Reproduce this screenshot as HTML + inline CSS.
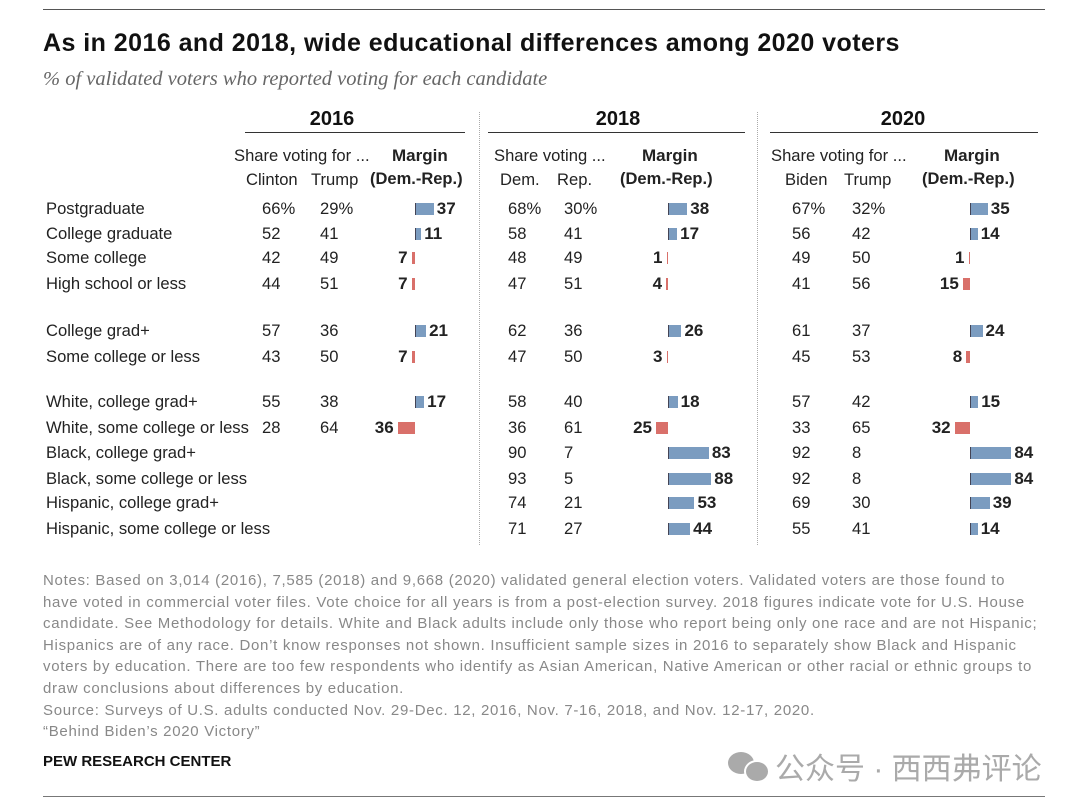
<!DOCTYPE html>
<html><head><meta charset="utf-8">
<style>
body{margin:0;background:#fff;width:1080px;height:806px;overflow:hidden;font-family:"Liberation Sans",sans-serif;color:#222;position:relative}
.a{position:absolute;white-space:nowrap}
.t{font-size:16.6px;line-height:20px}
</style></head><body>
<div class="a" style="left:43px;top:9px;width:1002px;height:1px;background:#555"></div>
<div class="a" style="left:43px;top:29px;font-size:25px;letter-spacing:0.45px;font-weight:bold;color:#111">As in 2016 and 2018, wide educational differences among 2020 voters</div>
<div class="a" style="left:43px;top:68px;font-size:20.5px;font-style:italic;font-family:'Liberation Serif',serif;color:#666">% of validated voters who reported voting for each candidate</div>
<div id="chart"></div>
<div class="a" style="left:43px;top:570px;font-size:15px;letter-spacing:0.7px;line-height:21.6px;color:#888">Notes: Based on 3,014 (2016), 7,585 (2018) and 9,668 (2020) validated general election voters. Validated voters are those found to<br>have voted in commercial voter files. Vote choice for all years is from a post-election survey. 2018 figures indicate vote for U.S. House<br>candidate. See Methodology for details. White and Black adults include only those who report being only one race and are not Hispanic;<br>Hispanics are of any race. Don’t know responses not shown. Insufficient sample sizes in 2016 to separately show Black and Hispanic<br>voters by education. There are too few respondents who identify as Asian American, Native American or other racial or ethnic groups to<br>draw conclusions about differences by education.<br>Source: Surveys of U.S. adults conducted Nov. 29-Dec. 12, 2016, Nov. 7-16, 2018, and Nov. 12-17, 2020.<br>“Behind Biden’s 2020 Victory”</div>
<div class="a" style="left:43px;top:753px;font-size:15px;font-weight:bold;color:#111">PEW RESEARCH CENTER</div>
<div class="a" style="left:728px;top:752px;width:26px;height:22px;border-radius:50%;background:#aaa"></div>
<div class="a" style="left:744px;top:760px;width:22px;height:19px;border-radius:50%;background:#aaa;border:2px solid #fff"></div>
<div class="a" style="left:775px;top:744px;font-size:30px;color:#aaa;font-family:'Liberation Sans','Noto Sans CJK SC',sans-serif">公众号 · 西西弗评论</div>
<div class="a" style="left:43px;top:796px;width:1002px;height:1px;background:#777"></div>
<script>
const labels=["Postgraduate","College graduate","Some college","High school or less","College grad+","Some college or less","White, college grad+","White, some college or less","Black, college grad+","Black, some college or less","Hispanic, college grad+","Hispanic, some college or less"];
const dem2016=[66,52,42,44,57,43,55,28,null,null,null,null];
const rep2016=[29,41,49,51,36,50,38,64,null,null,null,null];
const dem2018=[68,58,48,47,62,47,58,36,90,93,74,71];
const rep2018=[30,41,49,51,36,50,40,61,7,5,21,27];
const dem2020=[67,56,49,41,61,45,57,33,92,92,69,55];
const rep2020=[32,42,50,56,37,53,42,65,8,8,30,41];
const rowY=[209,234,258,284,331,357,402,428,453,479,503,529];
const years=[
 {y:"2016",d:dem2016,r:rep2016,dx:262,rx:320,zero:415,c:332,l:245,w:220,h1:"Share voting for ...",h1x:234,dn:"Clinton",rn:"Trump",dnx:246,rnx:311,mx:392,m2x:370},
 {y:"2018",d:dem2018,r:rep2018,dx:508,rx:564,zero:668,c:618,l:488,w:257,h1:"Share voting ...",h1x:494,dn:"Dem.",rn:"Rep.",dnx:500,rnx:557,mx:642,m2x:620},
 {y:"2020",d:dem2020,r:rep2020,dx:792,rx:852,zero:970,c:903,l:770,w:268,h1:"Share voting for ...",h1x:771,dn:"Biden",rn:"Trump",dnx:785,rnx:844,mx:944,m2x:922}];
const root=document.getElementById('chart');
function add(html,style,name,cls){const e=document.createElement('div');e.className='a '+(cls||'');e.innerHTML=html;e.style.cssText=style;


root.appendChild(e);return e;}
labels.forEach((l,i)=>add(l,`left:46px;top:${rowY[i]-10}px`,'row-label','t'));
const k=0.48;
years.forEach((Y,j)=>{
 add(Y.y,`left:${Y.c-40}px;width:80px;text-align:center;top:108px;font-size:20px;font-weight:bold;color:#111`,'year-header-'+Y.y);
 add('',`left:${Y.l}px;top:132px;width:${Y.w}px;height:1px;background:#333`,'year-rule-'+Y.y);
 add(Y.h1,`left:${Y.h1x}px;top:146px`,'share-header','t');
 add('<b>Margin</b>',`left:${Y.mx}px;top:146px;font-size:17px`,'margin-header');
 add(Y.dn,`left:${Y.dnx}px;top:170px`,'dem-header','t');
 add(Y.rn,`left:${Y.rnx}px;top:170px`,'rep-header','t');
 add('<b>(Dem.-Rep.)</b>',`left:${Y.m2x}px;top:170px;font-size:16.5px`,'margin-subheader');
 Y.d.forEach((d,i)=>{
  if(d===null)return;const r=Y.r[i];const pct=i==0?'%':'';
  add(d+pct,`left:${Y.dx}px;top:${rowY[i]-10}px`,'dem-value','t');
  add(r+pct,`left:${Y.rx}px;top:${rowY[i]-10}px`,'rep-value','t');
  const m=d-r;const w=Math.max(1.5,Math.abs(m)*k);
  if(m>=0){
   add('',`left:${Y.zero}px;top:${rowY[i]-6}px;width:${w}px;height:12px;background:#7b9cc0;border-left:1px solid #445`,'margin-bar');
   add('<b>'+m+'</b>',`left:${Y.zero+w+4}px;top:${rowY[i]-10}px;font-size:17px`,'margin-value');
  }else{
   add('',`left:${Y.zero-w}px;top:${rowY[i]-6}px;width:${w}px;height:12px;background:#d9706a`,'margin-bar');
   add('<b>'+(-m)+'</b>',`left:${Y.zero-w-44}px;width:40px;text-align:right;top:${rowY[i]-10}px;font-size:17px`,'margin-value');
  }
 });
});
[479,757].forEach(x=>add('',`left:${x}px;top:112px;height:433px;border-left:1px dotted #aaa`,'year-divider'));
</script>
</body></html>
